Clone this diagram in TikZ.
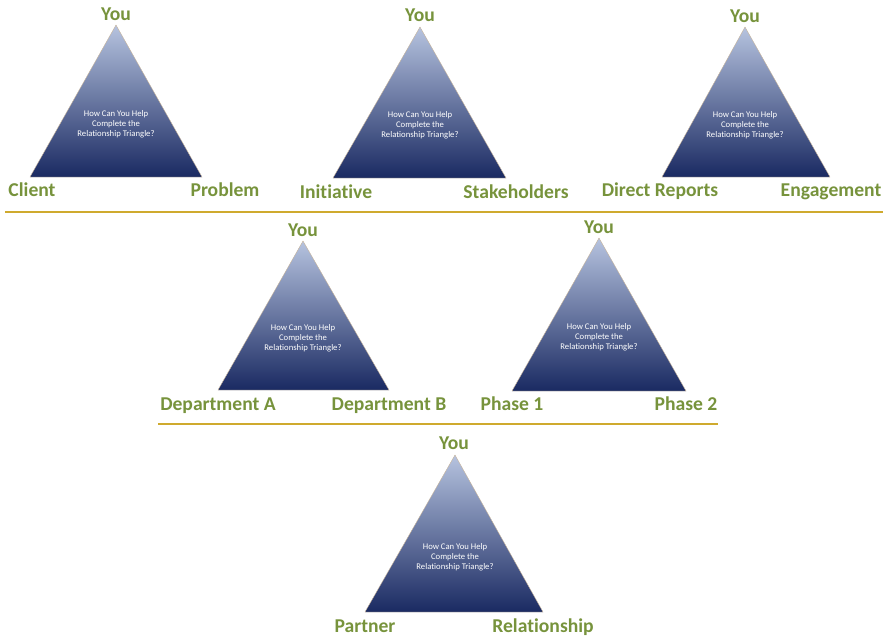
\documentclass[tikz,border=0pt]{standalone}
\usepackage{fontspec}
\setmainfont{Carlito}[Ligatures=NoCommon]
\usepackage{tikz}
\usetikzlibrary{calc}

\definecolor{olive}{HTML}{77933C}
\definecolor{gold}{HTML}{CFAA2E}
\definecolor{navy}{HTML}{1A2A62}
\definecolor{midblue}{HTML}{5468A3}
\definecolor{paleblue}{HTML}{B6C3DF}
\definecolor{edge}{HTML}{C8B49A}

\tikzset{
  corner/.style={text=olive, font=\fontsize{14.7}{16}\selectfont\bfseries, anchor=base, inner sep=0pt},
  inside/.style={text=white, font=\fontsize{6.5}{7.4}\selectfont, align=center, inner sep=0pt},
  tri/.style={top color=paleblue, middle color=midblue, bottom color=navy, draw=edge, line width=0.3pt},
  rule/.style={gold, line width=1.5pt}
}

\begin{document}
\begin{tikzpicture}[x=0.75pt, y=-0.75pt]
    \useasboundingbox (0,0) rectangle (890,640);

    % top row
    \shade[tri] (116,25) -- (202,177) -- (30,177) -- cycle;
    \node[inside] (q1) at (116,124) {How Can You Help\\Complete the\\Relationship Triangle?};
    \node[corner] (you1) at (116,20) {You};
    \node[corner] (client) at (32,196) {Client};
    \node[corner] (problem) at (225,196) {Problem};

    \shade[tri] (420,27) -- (506,178) -- (333,178) -- cycle;
    \node[inside] (q2) at (420,125) {How Can You Help\\Complete the\\Relationship Triangle?};
    \node[corner] (you2) at (420,21) {You};
    \node[corner] (initiative) at (336,198) {Initiative};
    \node[corner] (stake) at (516,198) {Stakeholders};

    \shade[tri] (745,27) -- (830,177) -- (662,177) -- cycle;
    \node[inside] (q3) at (745,125) {How Can You Help\\Complete the\\Relationship Triangle?};
    \node[corner] (you3) at (745,22) {You};
    \node[corner] (direct) at (660,196) {Direct Reports};
    \node[corner] (engage) at (831,196) {Engagement};

    \draw[rule] (5,212) -- (883,212);

    % middle row
    \shade[tri] (303,241) -- (389,390) -- (218,390) -- cycle;
    \node[inside] (q4) at (303,338) {How Can You Help\\Complete the\\Relationship Triangle?};
    \node[corner] (you4) at (303,236) {You};
    \node[corner] (depa) at (218,410) {Department A};
    \node[corner] (depb) at (389,410) {Department B};

    \shade[tri] (599,238) -- (686,391) -- (512,391) -- cycle;
    \node[inside] (q5) at (599,337) {How Can You Help\\Complete the\\Relationship Triangle?};
    \node[corner] (you5) at (599,233) {You};
    \node[corner] (phase1) at (512,410) {Phase 1};
    \node[corner] (phase2) at (686,410) {Phase 2};

    \draw[rule] (158,424) -- (718,424);

    % bottom row
    \shade[tri] (455,455) -- (543,612) -- (365,612) -- cycle;
    \node[inside] (q6) at (455,557) {How Can You Help\\Complete the\\Relationship Triangle?};
    \node[corner] (you6) at (454,449) {You};
    \node[corner] (partner) at (365,632) {Partner};
    \node[corner] (relation) at (543,632) {Relationship};
\end{tikzpicture}
\end{document}
